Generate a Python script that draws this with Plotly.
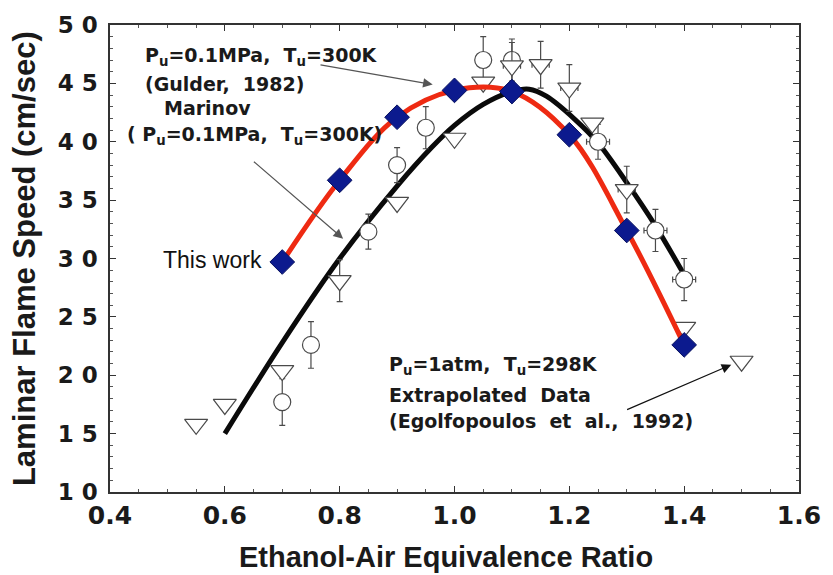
import plotly.graph_objects as go

# ---- data ----
this_work_x = [0.7, 0.8, 0.9, 1.0, 1.1, 1.2, 1.3, 1.4]
this_work_y = [29.7, 36.7, 42.1, 44.4, 44.3, 40.6, 32.4, 22.6]

marinov_x = [0.6, 0.7, 0.8, 0.9, 0.96, 1.0, 1.05, 1.1, 1.13, 1.16, 1.21, 1.25, 1.3, 1.35, 1.4]
marinov_y = [15.0, 22.8, 30.0, 36.2, 39.5, 41.4, 43.2, 44.3, 44.5, 43.9, 41.9, 39.9, 36.5, 32.8, 28.6]

gulder_x = [0.7, 0.75, 0.85, 0.9, 0.95, 1.05, 1.1, 1.25, 1.35, 1.4]
gulder_y = [17.7, 22.6, 32.3, 38.0, 41.2, 47.0, 47.0, 40.0, 32.4, 28.2]
gulder_ey = [2.0, 2.0, 1.5, 1.5, 1.8, 2.0, 1.8, 1.5, 1.8, 1.8]
gulder_ex = [0, 0, 0, 0, 0, 0, 0, 0.02, 0.02, 0.02]

egolf_x = [0.55, 0.6, 0.7, 0.8, 0.9, 1.0, 1.05, 1.1, 1.15, 1.2, 1.24, 1.3, 1.4]
egolf_y = [15.8, 17.5, 20.4, 28.1, 34.8, 40.3, 45.1, 46.5, 46.6, 44.6, 41.6, 35.9, 24.1]
egolf_ey = [0, 0, 0, 1.8, 0, 0, 0, 2.0, 2.0, 2.0, 0, 2.0, 0]
egolf_ex = [0, 0, 0, 0, 0, 0, 0, 0.015, 0.015, 0.015, 0, 0.015, 0]

extrap_x = [1.5]
extrap_y = [21.2]

x_ticks = [0.4, 0.6, 0.8, 1.0, 1.2, 1.4, 1.6]
x_ticktext = ["0.4", "0.6", "0.8", "1.0", "1.2", "1.4", "1.6"]
y_ticks = [10, 15, 20, 25, 30, 35, 40, 45, 50]
y_ticktext = ["1 0", "1 5", "2 0", "2 5", "3 0", "3 5", "4 0", "4 5", "5 0"]

ANN_FONT = dict(family="DejaVu Sans", size=19, color="#1a1a1a", weight="bold")
SYM_LINE = "#4a4a4a"

fig = go.Figure()

# Marinov model curve (black)
fig.add_trace(go.Scatter(
    x=marinov_x, y=marinov_y, mode="lines",
    line=dict(color="#0a0a0a", width=5, shape="spline", smoothing=0.9),
    hoverinfo="skip", showlegend=False))

# Gulder experimental data (open circles with error bars)
fig.add_trace(go.Scatter(
    x=gulder_x, y=gulder_y, mode="markers",
    marker=dict(symbol="circle", size=17, color="white",
                line=dict(color=SYM_LINE, width=1.2)),
    error_y=dict(type="data", array=gulder_ey, color=SYM_LINE, thickness=1.2, width=3),
    error_x=dict(type="data", array=gulder_ex, color=SYM_LINE, thickness=1.2, width=3),
    showlegend=False))

# Egolfopoulos data (open down triangles)
fig.add_trace(go.Scatter(
    x=egolf_x, y=egolf_y, mode="markers",
    marker=dict(symbol="triangle-down", size=20, color="white",
                line=dict(color=SYM_LINE, width=1.2)),
    error_y=dict(type="data", array=egolf_ey, color=SYM_LINE, thickness=1.2, width=3),
    error_x=dict(type="data", array=egolf_ex, color=SYM_LINE, thickness=1.2, width=3),
    showlegend=False))

# Extrapolated point
fig.add_trace(go.Scatter(
    x=extrap_x, y=extrap_y, mode="markers",
    marker=dict(symbol="triangle-down", size=20, color="white",
                line=dict(color=SYM_LINE, width=1.2)),
    showlegend=False))

# This work (red line + blue diamonds)
fig.add_trace(go.Scatter(
    x=this_work_x, y=this_work_y, mode="lines",
    line=dict(color="#ee2a12", width=5, shape="spline", smoothing=1.0),
    showlegend=False))
fig.add_trace(go.Scatter(
    x=this_work_x, y=this_work_y, mode="markers",
    marker=dict(symbol="diamond", size=19, color="#0c1a8e",
                line=dict(color="#06105e", width=1)),
    showlegend=False))

# ---- text annotations ----
texts = [
    dict(x=0.457, y=47.3, text="P<sub>u</sub>=0.1MPa,  T<sub>u</sub>=300K", xanchor="left"),
    dict(x=0.457, y=44.95, text="(Gulder,  1982)", xanchor="left"),
    dict(x=0.570, y=42.85, text="Marinov", xanchor="center"),
    dict(x=0.426, y=40.5, text="( P<sub>u</sub>=0.1MPa,  T<sub>u</sub>=300K)", xanchor="left"),
    dict(x=0.882, y=20.8, text="P<sub>u</sub>=1atm,  T<sub>u</sub>=298K", xanchor="left"),
    dict(x=0.882, y=18.3, text="Extrapolated  Data", xanchor="left"),
    dict(x=0.882, y=16.1, text="(Egolfopoulos  et  al.,  1992)", xanchor="left"),
]
for t in texts:
    fig.add_annotation(x=t["x"], y=t["y"], xref="x", yref="y", text=t["text"],
                       showarrow=False, xanchor=t["xanchor"], yanchor="middle",
                       font=ANN_FONT)

fig.add_annotation(x=this_work_x[0], y=this_work_y[0], xref="x", yref="y",
                   text="This work", showarrow=False, xanchor="right", yanchor="middle",
                   xshift=-18, yshift=2,
                   font=dict(family="Liberation Sans, Arial", size=23, color="#111"))

# ---- arrows ----
arrows = [
    ((0.764, 46.6), (0.962, 44.9), "#555"),
    ((0.648, 38.4), (0.806, 31.7), "#555"),
    ((1.298, 17.0), (1.482, 20.9), "#111"),
]
for (tx, ty), (hx, hy), c in arrows:
    fig.add_annotation(x=hx, y=hy, ax=tx, ay=ty, xref="x", yref="y",
                       axref="x", ayref="y", text="", showarrow=True,
                       arrowhead=2, arrowsize=1.6, arrowwidth=1.2, arrowcolor=c,
                       standoff=0)

# ---- axis titles ----
fig.add_annotation(x=0.487, y=-0.139, xref="paper", yref="paper",
                   text="Ethanol-Air Equivalence Ratio", showarrow=False,
                   xanchor="center", yanchor="middle",
                   font=dict(family="Liberation Sans, Arial", size=29, color="#1a1a1a", weight="bold"))
fig.add_annotation(x=-0.124, y=0.5, xref="paper", yref="paper",
                   text="Laminar Flame Speed (cm/sec)", showarrow=False, textangle=-90,
                   xanchor="center", yanchor="middle",
                   font=dict(family="Liberation Sans, Arial", size=31, color="#1a1a1a", weight="bold"))

axis_common = dict(
    showline=True, linecolor="#333", linewidth=1.5, mirror="ticks",
    ticks="inside", ticklen=6, tickwidth=1.2, tickcolor="#333",
    showgrid=False, zeroline=False,
    tickfont=dict(family="DejaVu Sans", size=25, color="#1a1a1a", weight="bold"),
)

fig.update_xaxes(range=[0.4, 1.6], tickvals=x_ticks, ticktext=x_ticktext,
                 minor=dict(dtick=0.05, ticks="inside", ticklen=3, tickcolor="#555", showgrid=False),
                 **axis_common)
fig.update_yaxes(range=[10, 50], tickvals=y_ticks, ticktext=y_ticktext,
                 minor=dict(dtick=1, ticks="inside", ticklen=3, tickcolor="#555", showgrid=False),
                 **axis_common)
fig.update_yaxes(tickfont=dict(size=23), ticklabelstandoff=6)

fig.update_layout(
    width=833, height=575,
    margin=dict(l=110, r=31, t=25, b=83),
    paper_bgcolor="white", plot_bgcolor="white",
    showlegend=False,
)

fig.write_html("out.html")
